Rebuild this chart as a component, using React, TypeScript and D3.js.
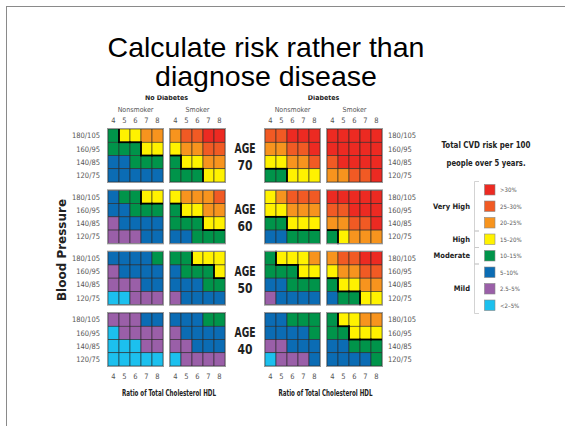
import React from "react";
import * as d3 from "d3";

// Risk levels: 0 "<2.5%", 1 "2.5–5%", 2 "5–10%", 3 "10–15%", 4 "15–20%", 5 "20–25%", 6 "25–30%", 7 ">30%"
const ages = ["70", "60", "50", "40"];
const bpLabels = ["180/105", "160/95", "140/85", "120/75"];
const ratios = ["4", "5", "6", "7", "8"];
const panelNames = ["Nonsmoker", "Smoker", "Nonsmoker", "Smoker"];
const groupNames = ["No Diabetes", "Diabetes"];

// each age: [NS-noDiab, S-noDiab, NS-Diab, S-Diab], rows 180/105 → 120/75, cols ratio 4 → 8
const age70 = [
  [[3, 4, 4, 5, 5], [3, 3, 3, 4, 4], [2, 2, 3, 3, 3], [2, 2, 2, 2, 2]],
  [[5, 6, 6, 7, 7], [4, 5, 5, 6, 6], [3, 4, 4, 5, 5], [3, 3, 3, 4, 4]],
  [[6, 6, 7, 7, 7], [5, 5, 6, 6, 7], [4, 4, 5, 5, 6], [3, 3, 4, 4, 4]],
  [[7, 7, 7, 7, 7], [7, 7, 7, 7, 7], [6, 7, 7, 7, 7], [5, 5, 6, 6, 7]],
];
const age60 = [
  [[2, 3, 3, 4, 4], [2, 2, 3, 3, 3], [1, 2, 2, 2, 2], [1, 1, 1, 2, 2]],
  [[4, 5, 5, 5, 6], [3, 4, 4, 5, 5], [3, 3, 3, 4, 4], [2, 2, 3, 3, 3]],
  [[4, 5, 6, 6, 6], [4, 4, 5, 5, 5], [3, 3, 4, 4, 4], [2, 2, 3, 3, 3]],
  [[7, 7, 7, 7, 7], [6, 6, 7, 7, 7], [5, 5, 6, 6, 7], [3, 4, 5, 5, 5]],
];
const age50 = [
  [[2, 2, 2, 2, 3], [1, 2, 2, 2, 2], [1, 1, 1, 2, 2], [0, 0, 1, 1, 1]],
  [[3, 3, 4, 4, 4], [2, 3, 3, 3, 4], [2, 2, 2, 3, 3], [1, 2, 2, 2, 2]],
  [[3, 4, 4, 4, 5], [3, 3, 3, 4, 4], [2, 2, 3, 3, 3], [1, 2, 2, 2, 2]],
  [[5, 6, 6, 7, 7], [4, 5, 5, 6, 6], [3, 4, 4, 5, 5], [2, 3, 3, 4, 4]],
];
const age40 = [
  [[1, 1, 1, 2, 2], [0, 1, 1, 1, 1], [0, 0, 0, 1, 1], [0, 0, 0, 0, 0]],
  [[2, 2, 2, 3, 3], [1, 2, 2, 2, 2], [1, 1, 2, 2, 2], [0, 1, 1, 1, 1]],
  [[2, 2, 3, 3, 3], [2, 2, 2, 2, 3], [1, 1, 2, 2, 2], [0, 1, 1, 1, 2]],
  [[3, 4, 4, 5, 5], [3, 3, 4, 4, 4], [2, 2, 3, 3, 3], [2, 2, 2, 2, 3]],
];
const ageData = [age70, age60, age50, age40];

const levelLabels = ["<2–5%", "2.5–5%", "5–10%", "10–15%", "15–20%", "20–25%", "25–30%", ">30%"];
const levelColors = ["#1cc0ee", "#9a5fa8", "#0b6cb4", "#00944a", "#fff200", "#f7941e", "#f15a24", "#ec2a22"];
const groupLabels = [
  { name: "Very High", from: 7, to: 5 },
  { name: "High", from: 4, to: 4 },
  { name: "Moderate", from: 3, to: 3 },
  { name: "Mild", from: 2, to: 0 },
];

const COND = "'DejaVu Sans Condensed', 'DejaVu Sans', sans-serif";

export default function App() {
  const W = 565, H = 426;
  const panelX = [108, 170, 265, 327];
  const panelW = 55;
  const panelH = 53;
  const rowY = d3.scaleLinear().domain([0, 3]).range([129, 313]);
  const colScale = d3.scaleBand<string>().domain(ratios).range([0, panelW]);
  const bpScale = d3.scaleBand<string>().domain(bpLabels).range([0, panelH]);
  const color = d3.scaleOrdinal<number, string>().domain(d3.range(8)).range(levelColors);
  const legendY = d3.scaleLinear().domain([7, 0]).range([184.5, 300]);
  const cw = colScale.bandwidth();
  const ch = bpScale.bandwidth();

  const panels: React.ReactNode[] = [];
  ageData.forEach((age, ai) => {
    age.forEach((grid, pi) => {
      const x0 = panelX[pi];
      const y0 = rowY(ai);
      const cells: React.ReactNode[] = [];
      const thick: React.ReactNode[] = [];
      grid.forEach((row, ri) => {
        row.forEach((v, ci) => {
          const x = x0 + (colScale(ratios[ci]) as number);
          const y = y0 + (bpScale(bpLabels[ri]) as number);
          cells.push(
            <rect key={`c${ri}-${ci}`} x={x} y={y} width={cw} height={ch} fill={color(v)} stroke="#2a2a2a" strokeWidth={0.6} />
          );
          const hi = v >= 4;
          if (ci < 4 && (row[ci + 1] >= 4) !== hi) {
            thick.push(<line key={`v${ri}-${ci}`} x1={x + cw} x2={x + cw} y1={y - 0.8} y2={y + ch + 0.8} stroke="#000" strokeWidth={1.8} />);
          }
          if (ri < 3 && (grid[ri + 1][ci] >= 4) !== hi) {
            thick.push(<line key={`h${ri}-${ci}`} x1={x - 0.8} x2={x + cw + 0.8} y1={y + ch} y2={y + ch} stroke="#000" strokeWidth={1.8} />);
          }
        });
      });
      panels.push(
        <g key={`p${ai}-${pi}`}>
          {cells}
          {thick}
          <rect x={x0 - 0.5} y={y0 - 0.5} width={panelW + 1} height={panelH + 1} fill="none" stroke="#9a9a9a" strokeWidth={1} />
        </g>
      );
    });
  });

  return (
    <svg width={W} height={H} style={{ position: "absolute", left: 0, top: 0, background: "#fff" }}>
      <rect x={0} y={0} width={W} height={H} fill="#fff" />
      <rect x={6.5} y={6.5} width={W} height={H} fill="none" stroke="#8a8a8a" strokeWidth={1} />

      {/* group headers */}
      {groupNames.map((g, i) => (
        <text key={g} x={(panelX[i * 2] + panelX[i * 2 + 1] + panelW) / 2} y={100} textAnchor="middle" fontFamily={COND} fontWeight="bold" fontSize={7} fill="#222">
          {g}
        </text>
      ))}

      {/* white title box covering header tops */}
      <rect x={100} y={20} width={360} height={75.5} fill="#fff" />
      <text x={266} y={57} textAnchor="middle" fontFamily="'Liberation Sans', Arial, sans-serif" fontSize={28.5} fill="#000">
        Calculate risk rather than
      </text>
      <text x={266} y={86} textAnchor="middle" fontFamily="'Liberation Sans', Arial, sans-serif" fontSize={28.5} fill="#000">
        diagnose disease
      </text>

      {panelNames.map((n, i) => (
        <text key={`pn${i}`} x={panelX[i] + panelW / 2} y={112} textAnchor="middle" fontFamily={COND} fontSize={7} fill="#555">
          {n}
        </text>
      ))}
      {panelX.map((px, i) =>
        ratios.map((r) => (
          <g key={`t${i}-${r}`}>
            <text x={px + (colScale(r) as number) + cw / 2} y={123} textAnchor="middle" fontFamily={COND} fontSize={7.5} fill="#555">{r}</text>
            <text x={px + (colScale(r) as number) + cw / 2} y={378.5} textAnchor="middle" fontFamily={COND} fontSize={7.5} fill="#555">{r}</text>
          </g>
        ))
      )}

      {panels}

      {/* BP labels and age labels */}
      {ages.map((a, ai) => (
        <g key={`a${ai}`}>
          {bpLabels.map((b) => (
            <g key={b}>
              <text x={100} y={rowY(ai) + (bpScale(b) as number) + ch / 2 + 2.7} textAnchor="end" fontFamily={COND} fontSize={7.5} fill="#555">{b}</text>
              <text x={388} y={rowY(ai) + (bpScale(b) as number) + ch / 2 + 2.7} textAnchor="start" fontFamily={COND} fontSize={7.5} fill="#555">{b}</text>
            </g>
          ))}
          <text x={245} y={rowY(ai) + 24} textAnchor="middle" fontFamily={COND} fontWeight="bold" fontSize={14} fill="#222" textLength={21} lengthAdjust="spacingAndGlyphs">AGE</text>
          <text x={245} y={rowY(ai) + 41} textAnchor="middle" fontFamily={COND} fontWeight="bold" fontSize={14} fill="#222" textLength={15} lengthAdjust="spacingAndGlyphs">{a}</text>
        </g>
      ))}

      <text transform="translate(66,250) rotate(-90)" textAnchor="middle" fontFamily={COND} fontWeight="bold" fontSize={12} fill="#222" textLength={102} lengthAdjust="spacingAndGlyphs">Blood Pressure</text>

      <text x={169} y={396} textAnchor="middle" fontFamily={COND} fontWeight="bold" fontSize={8} fill="#222" textLength={94} lengthAdjust="spacingAndGlyphs">Ratio of Total Cholesterol HDL</text>
      <text x={325.5} y={396} textAnchor="middle" fontFamily={COND} fontWeight="bold" fontSize={8} fill="#222" textLength={94} lengthAdjust="spacingAndGlyphs">Ratio of Total Cholesterol HDL</text>

      {/* legend */}
      <text x={486} y={148} textAnchor="middle" fontFamily={COND} fontWeight="bold" fontSize={9} fill="#222" textLength={89} lengthAdjust="spacingAndGlyphs">Total CVD risk per 100</text>
      <text x={486} y={166} textAnchor="middle" fontFamily={COND} fontWeight="bold" fontSize={9} fill="#222" textLength={79} lengthAdjust="spacingAndGlyphs">people over 5 years.</text>
      {levelLabels.map((l, i) => (
        <g key={l}>
          <rect x={484.5} y={legendY(i)} width={10.5} height={10.5} fill={color(i)} stroke="#888" strokeWidth={0.6} />
          <text x={500} y={legendY(i) + 7.5} fontFamily={COND} fontSize={6} fill="#555">{l}</text>
        </g>
      ))}
      {groupLabels.map((g) => {
        const top = legendY(g.from) - 3;
        const bot = legendY(g.to) + 13.5;
        return (
          <g key={g.name}>
            <path d={`M${479},${top}H${474.5}V${bot}H${479}`} fill="none" stroke="#c8c8c8" strokeWidth={0.8} />
            <text x={470} y={(top + bot) / 2 + 2.5} textAnchor="end" fontFamily={COND} fontWeight="bold" fontSize={7.5} fill="#222">{g.name}</text>
          </g>
        );
      })}
    </svg>
  );
}
